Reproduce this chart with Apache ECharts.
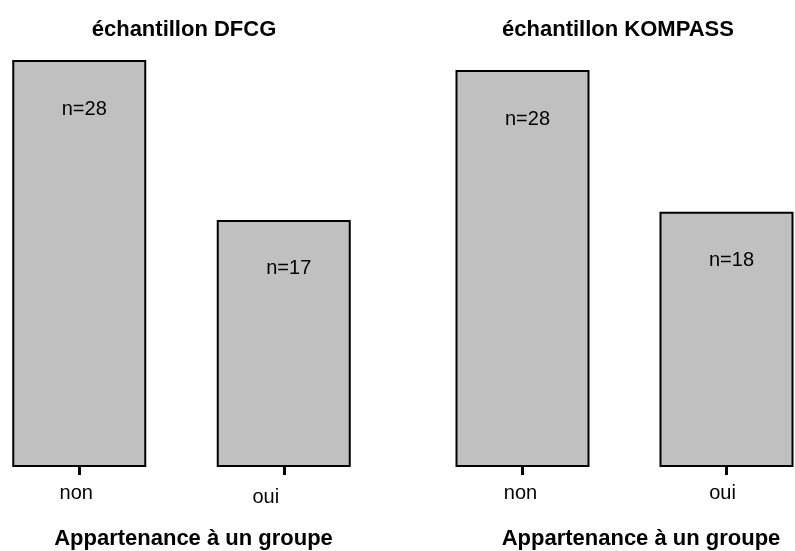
<!DOCTYPE html>
<html><head><meta charset="utf-8">
<script src="https://cdn.jsdelivr.net/npm/echarts@6/dist/echarts.min.js"></script>
<style>html,body{margin:0;padding:0;background:#fff}#c{width:795px;height:551px}</style>
</head><body><div id="c"></div>
<script>
const categories = ['non', 'oui'];
const dfcgCounts = [28, 17];
const kompassCounts = [28, 18];
const panelTitles = ['échantillon DFCG', 'échantillon KOMPASS'];
const axisTitle = 'Appartenance à un groupe';

const FONT = 'Liberation Sans, Arial, sans-serif';
const chart = echarts.init(document.getElementById('c'));

function xAx(gridIndex, pads) {
  return {
    type: 'category', gridIndex,
    data: categories.map((c, i) => ({ value: c, textStyle: { padding: pads[i] } })),
    axisLine: { show: false },
    axisTick: { show: true, alignWithLabel: true, length: 8, lineStyle: { color: '#000', width: 3 } },
    axisLabel: { color: '#000', fontSize: 20, fontFamily: FONT, margin: 16 },
    name: axisTitle, nameLocation: 'middle', nameGap: 61,
    nameTextStyle: { color: '#000', fontSize: 22, fontWeight: 'bold', fontFamily: FONT, padding: pads[2] }
  };
}
function yAx(gridIndex) {
  return { type: 'value', gridIndex, min: 0, max: 28, show: false, splitLine: { show: false } };
}
function bars(idx, vals) {
  return {
    type: 'bar', xAxisIndex: idx, yAxisIndex: idx, data: vals, barWidth: 134,
    itemStyle: { color: '#c0c0c0', borderColor: '#000', borderWidth: 2 },
    label: {
      show: true, position: [72, 49], align: 'center', verticalAlign: 'middle',
      formatter: p => 'n=' + p.value, color: '#000', fontSize: 20, fontFamily: FONT
    },
    silent: true, animation: false
  };
}

chart.setOption({
  animation: false,
  title: [
    { text: panelTitles[0], left: 179, top: 14, textAlign: 'center',
      textStyle: { fontSize: 22, fontWeight: 'bold', color: '#000', fontFamily: FONT } },
    { text: panelTitles[1], left: 613, top: 14, textAlign: 'center',
      textStyle: { fontSize: 22, fontWeight: 'bold', color: '#000', fontFamily: FONT } }
  ],
  grid: [
    { left: -23, width: 409, top: 60, bottom: 84, outerBoundsMode: 'none', containLabel: false },
    { left: 420.5, width: 408, top: 70, bottom: 84, outerBoundsMode: 'none', containLabel: false }
  ],
  xAxis: [
    xAx(0, [[0, 6, 0, 0], [4, 36, 0, 0], [0, 0, 0, 24]]),
    xAx(1, [[0, 4, 0, 0], [0, 8, 0, 0], [0, 0, 0, 33]])
  ],
  yAxis: [yAx(0), yAx(1)],
  series: [bars(0, dfcgCounts), bars(1, kompassCounts)]
});
</script></body></html>
